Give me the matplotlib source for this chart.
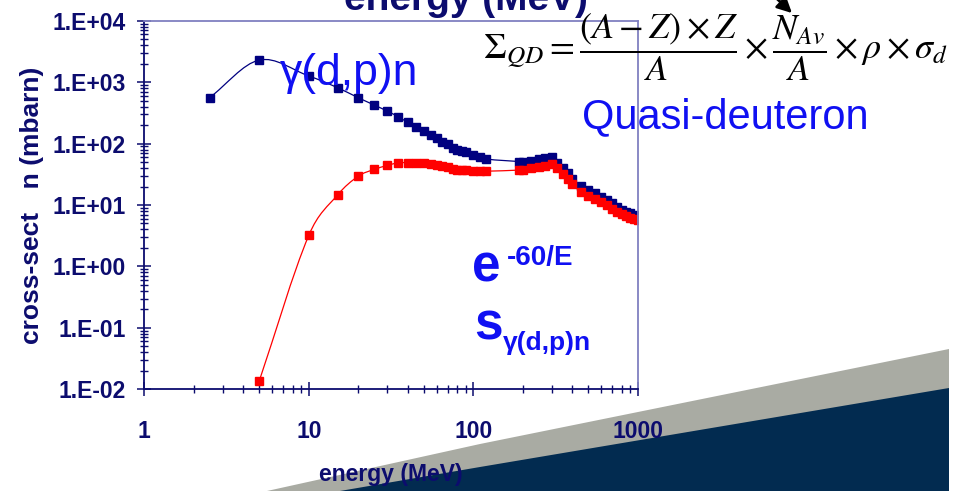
import numpy as np
import matplotlib
matplotlib.use("Agg")
import matplotlib.pyplot as plt
from matplotlib.path import Path
from matplotlib.patches import PathPatch, Polygon, Rectangle, FancyArrowPatch
from matplotlib.ticker import LogLocator, NullFormatter

plt.rcParams['font.family'] = ['Liberation Sans', 'DejaVu Sans']
plt.rcParams['mathtext.fontset'] = 'stix'

# --- data ---
# total gamma(d,p)n cross-section (mbarn) vs photon energy (MeV)
energy_dpn = [2.5, 5, 10, 15, 20, 25, 30, 35, 40, 45, 50, 55, 60, 65, 70, 75, 80, 85, 90, 100,
              110, 120, 190, 200, 225, 250, 275, 300, 325, 350, 375, 400, 450, 500, 550,
              600, 650, 700, 750, 800, 850, 900, 950, 1000]
sigma_dpn = [560, 2290, 1260, 810, 557, 424, 338, 273, 221, 188, 160, 137, 122, 107, 97, 86, 80, 76, 72, 65,
             61, 56, 51, 50.6, 52.5, 56, 58, 59.6, 48.7, 39.4, 32.7, 26.4, 20.6, 17.5, 15.5,
             13.6, 11.9, 10.6, 9.4, 8.3, 7.8, 7.3, 6.9, 6.6]

# quasi-deuteron part (damped by e^-60/E)
energy_qd = [5, 10, 15, 20, 25, 30, 35, 40, 45, 50, 55, 60, 65, 70, 75, 80, 85, 90, 100,
             110, 120, 190, 200, 225, 250, 275, 300, 325, 350, 375, 400, 450, 500, 550,
             600, 650, 700, 750, 800, 850, 900, 950, 1000]
sigma_qd = [0.0137, 3.2, 14.7, 29.5, 38, 44, 48.7, 48.7, 48.7, 47.6, 45.8, 44.2, 43.5, 42, 38.5, 37.5, 37, 36.5, 36,
            36, 35.5, 37, 37.5, 39.5, 42, 43.5, 45.8, 39.4, 31.5, 26.1, 21.9, 16.4, 14, 12.3,
            11.1, 9.9, 8.6, 7.8, 7.1, 6.6, 6.05, 5.9, 5.7]

x_ticks = [1, 10, 100, 1000]
x_tick_labels = ["1", "10", "100", "1000"]
y_ticks = [1e-2, 1e-1, 1e0, 1e1, 1e2, 1e3, 1e4]
y_tick_labels = ["1.E-02", "1.E-01", "1.E+00", "1.E+01", "1.E+02", "1.E+03", "1.E+04"]

NAVY = "#0c0c6e"
LAVENDER = "#8080c0"
BLUE_TXT = "#1010f2"
W, H = 970, 491


def smooth_path(xs, ys):
    # excel-like smoothed line: cubic hermite in log-log space
    lx = np.log10(xs)
    ly = np.log10(ys)
    n = len(lx)
    m = np.empty(n)
    m[0] = (ly[1] - ly[0]) / (lx[1] - lx[0])
    m[-1] = (ly[-1] - ly[-2]) / (lx[-1] - lx[-2])
    m[1:-1] = (ly[2:] - ly[:-2]) / (lx[2:] - lx[:-2])
    verts = [(lx[0], ly[0])]
    codes = [Path.MOVETO]
    for i in range(n - 1):
        d = (lx[i + 1] - lx[i]) / 3
        verts += [(lx[i] + d, ly[i] + m[i] * d),
                  (lx[i + 1] - d, ly[i + 1] - m[i + 1] * d),
                  (lx[i + 1], ly[i + 1])]
        codes += [Path.CURVE4] * 3
    return Path(10 ** np.array(verts), codes)


fig = plt.figure(figsize=(W / 100, H / 100), dpi=100)
fig.patch.set_facecolor("white")

# slide decoration bottom right
fig.add_artist(Polygon([(267 / W, 0), (480 / W, 1 - 444 / H), (949 / W, 1 - 349 / H), (949 / W, 0)],
                       closed=True, transform=fig.transFigure, fc="#a9aba3", ec="none", zorder=-5))
fig.add_artist(Polygon([(340 / W, 0), (480 / W, 1 - 467 / H), (949 / W, 1 - 388 / H), (949 / W, 0)],
                       closed=True, transform=fig.transFigure, fc="#022b50", ec="none", zorder=-4))

ax = fig.add_axes([144.3 / W, 1 - 389.3 / H, 493.4 / W, 368.6 / H])
ax.patch.set_alpha(0)
ax.set_xscale("log")
ax.set_yscale("log")

ax.add_patch(PathPatch(smooth_path(energy_dpn, sigma_dpn), fill=False, ec="#000080", lw=0.9))
ax.plot(energy_dpn, sigma_dpn, ls="none", marker="s", ms=5.3, color="#000080")
ax.add_patch(PathPatch(smooth_path(energy_qd, sigma_qd), fill=False, ec="#ff0000", lw=0.9))
ax.plot(energy_qd, sigma_qd, ls="none", marker="s", ms=5.5, color="#ff0000")

ax.set_xlim(1, 1000)
ax.set_ylim(1e-2, 1e4)
ax.set_xticks(x_ticks, x_tick_labels)
ax.set_yticks(y_ticks, y_tick_labels)
ax.xaxis.set_minor_locator(LogLocator(base=10, subs=np.arange(2, 10)))
ax.yaxis.set_minor_locator(LogLocator(base=10, subs=np.arange(2, 10)))
ax.xaxis.set_minor_formatter(NullFormatter())
ax.yaxis.set_minor_formatter(NullFormatter())
ax.tick_params(which="major", direction="inout", length=10, width=1.1, color=NAVY,
               labelsize=16.5, labelcolor=NAVY)
ax.tick_params(axis="y", which="major", pad=8.5)
ax.tick_params(axis="x", which="major", pad=17)
ax.tick_params(which="minor", direction="inout", length=6, width=1.0, color=NAVY)
for lab in ax.get_xticklabels() + ax.get_yticklabels():
    lab.set_fontweight("bold")

for side in ["left", "bottom"]:
    ax.spines[side].set_color(NAVY)
    ax.spines[side].set_linewidth(1.3)
for side in ["top", "right"]:
    ax.spines[side].set_color(LAVENDER)
    ax.spines[side].set_linewidth(1.3)

ax.set_xlabel("energy (MeV)", fontsize=16.5, fontweight="bold", color=NAVY)
ax.xaxis.set_label_coords(0.5, (389.3 - 475) / 368.6)
ax.xaxis.label.set_verticalalignment("center")
ax.set_ylabel("cross-section (mbarn)", fontsize=19, fontweight="bold", color=NAVY)
ax.yaxis.set_label_coords((32.5 - 144.3) / 493.4, 0.5)
ax.yaxis.label.set_verticalalignment("center")

# part of the y label is hidden on the slide
fig.add_artist(Rectangle((16 / W, 1 - 212.5 / H), 32 / W, 23.5 / H, transform=fig.transFigure,
                         fc="white", ec="none", zorder=10))

# cut-off title at the top
fig.text(466 / W, 1 - 10 / H, "energy (MeV)", fontsize=28, fontweight="bold", color=NAVY,
         ha="center", va="baseline")

# formula
fig.text(715 / W, 1 - 47.5 / H,
         r"$\Sigma_{QD} = \dfrac{(A-Z)\times Z}{A}\times\dfrac{N_{Av}}{A}\times\rho\times\sigma_{d}$",
         fontsize=26, color="black", ha="center", va="center")
fig.add_artist(FancyArrowPatch((772 / W, 1 + 6 / H), (794 / W, 1 - 15 / H), transform=fig.transFigure,
                               arrowstyle="-|>", mutation_scale=22, lw=2, color="black"))

fig.text(280 / W, 1 - 85 / H, "γ(d,p)n", fontsize=32, color=BLUE_TXT, ha="left", va="baseline")
fig.text(582 / W, 1 - 128 / H, "Quasi-deuteron", fontsize=30, color=BLUE_TXT, ha="left", va="baseline")

fig.text(472 / W, 1 - 282 / H, "e", fontsize=37, fontweight="bold", color=BLUE_TXT, ha="left", va="baseline")
fig.text(507 / W, 1 - 265 / H, "-60/E", fontsize=20, fontweight="bold", color=BLUE_TXT, ha="left", va="baseline")
fig.text(474 / W, 1 - 340 / H, "s", fontsize=37, fontweight="bold", color=BLUE_TXT, ha="left", va="baseline")
fig.text(503 / W, 1 - 350 / H, "γ(d,p)n", fontsize=19, fontweight="bold", color=BLUE_TXT, ha="left", va="baseline")

fig.savefig("out.png", dpi=100)
